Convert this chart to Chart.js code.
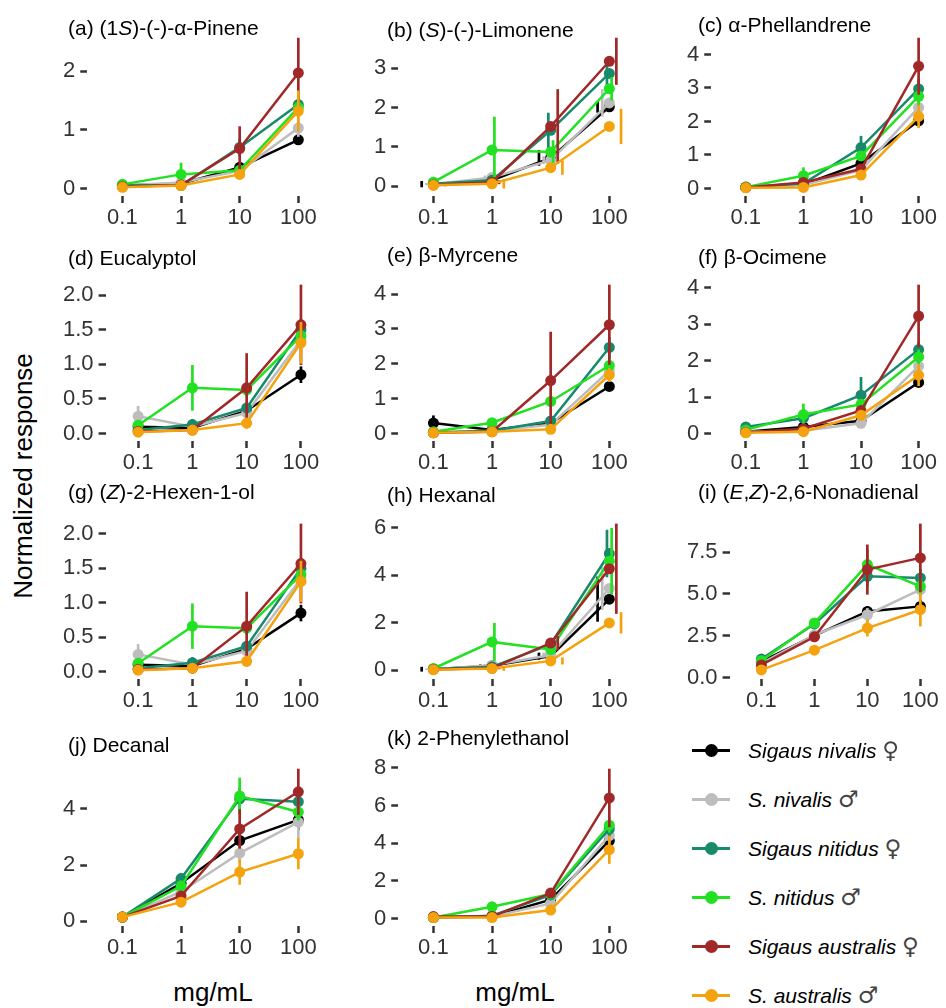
<!DOCTYPE html>
<html lang="en">
<head>
<meta charset="UTF-8">
<title>Normalized response</title>
<script src="https://cdn.jsdelivr.net/npm/chart.js@4.4.0/dist/chart.umd.min.js"></script>
<style>
    body { margin: 0; background: #fff; font-family: "Liberation Sans", Arial, sans-serif; }
    #fig { position: relative; width: 946px; height: 1008px; overflow: hidden; }
    #fig canvas { position: absolute; }
    .title { position: absolute; font-size: 21px; line-height: 22px; white-space: nowrap; color: #000; }
    .axtitle { position: absolute; font-size: 26px; line-height: 30px; white-space: nowrap; color: #000; }
    .leg { position: absolute; left: 692px; width: 250px; height: 24px; font-size: 21px; line-height: 24px; white-space: nowrap; }
    .leg .ln { position: absolute; left: 0; top: 10.5px; width: 38px; height: 3px; }
    .leg .pt { position: absolute; left: 13px; top: 5.5px; width: 13px; height: 13px; border-radius: 50%; }
    .leg .tx { position: absolute; left: 56px; top: 0; font-style: italic; color: #000; }
    .leg .sx { font-style: normal; color: #444; font-family: "DejaVu Sans ExtraLight", "DejaVu Sans", sans-serif; font-size: 23px; }
</style>
</head>
<body>
<div id="fig"></div>
<script>
    // concentrations (x axis)
    const doses = ['0.1', '1', '10', '100'];

    // groups, in the order of the legend
    const legendNames = ['Sigaus nivalis', 'S. nivalis', 'Sigaus nitidus', 'S. nitidus', 'Sigaus australis', 'S. australis'];
    const legendSex = ['♀', '♂', '♀', '♂', '♀', '♂'];
    const colors = ['#000000', '#BDBDBD', '#178A6C', '#22E022', '#A12828', '#F4A30F'];

    // mean responses, one row per group (nivalis F, nivalis M, nitidus F, nitidus M, australis F, australis M)
    const pinene = [
        [0.05, 0.08, 0.36, 0.83], [0.05, 0.10, 0.30, 1.03], [0.06, 0.05, 0.70, 1.43],
        [0.07, 0.24, 0.31, 1.38], [0.03, 0.06, 0.68, 1.97], [0.02, 0.05, 0.24, 1.32]];
    const pineneSE = [
        [0.02, 0.03, 0.05, 0.07], [0.02, 0.03, 0.05, 0.15], [0.02, 0.03, 0.15, 0.15],
        [0.02, 0.20, 0.06, 0.15], [0.02, 0.03, 0.38, 0.60], [0.02, 0.03, 0.05, 0.35]];

    const limonene = [
        [0.05, 0.15, 0.72, 2.02], [0.05, 0.22, 0.66, 2.12], [0.06, 0.15, 1.42, 2.87],
        [0.10, 0.92, 0.87, 2.48], [0.03, 0.10, 1.52, 3.18], [0.02, 0.06, 0.47, 1.52]];
    const limoneneSE = [
        [0.08, 0.05, 0.20, 0.15], [0.03, 0.05, 0.10, 0.35], [0.03, 0.05, 0.45, 0.40],
        [0.03, 0.85, 0.30, 0.30], [0.03, 0.05, 0.95, 0.60], [0.03, 0.12, 0.18, 0.45]];

    const phellandrene = [
        [0.03, 0.12, 0.75, 2.02], [0.03, 0.10, 0.55, 2.42], [0.04, 0.15, 1.22, 2.97],
        [0.04, 0.38, 0.97, 2.75], [0.03, 0.18, 0.58, 3.65], [0.02, 0.03, 0.40, 2.15]];
    const phellandreneSE = [
        [0.02, 0.03, 0.10, 0.15], [0.02, 0.03, 0.08, 0.30], [0.02, 0.05, 0.35, 0.30],
        [0.02, 0.25, 0.15, 0.30], [0.02, 0.05, 0.10, 0.85], [0.02, 0.03, 0.12, 0.35]];

    const eucalyptol = [
        [0.10, 0.08, 0.33, 0.85], [0.25, 0.10, 0.30, 1.35], [0.05, 0.13, 0.37, 1.50],
        [0.12, 0.66, 0.63, 1.41], [0.03, 0.05, 0.66, 1.57], [0.02, 0.05, 0.15, 1.31]];
    const eucalyptolSE = [
        [0.04, 0.03, 0.05, 0.12], [0.15, 0.03, 0.05, 0.30], [0.03, 0.08, 0.06, 0.15],
        [0.04, 0.33, 0.10, 0.15], [0.02, 0.03, 0.50, 0.58], [0.02, 0.03, 0.08, 0.30]];

    const myrcene = [
        [0.30, 0.10, 0.30, 1.35], [0.03, 0.08, 0.25, 1.80], [0.03, 0.08, 0.36, 2.47],
        [0.05, 0.31, 0.92, 1.95], [0.02, 0.05, 1.52, 3.12], [0.02, 0.05, 0.12, 1.68]];
    const myrceneSE = [
        [0.22, 0.03, 0.05, 0.10], [0.02, 0.03, 0.05, 0.20], [0.02, 0.03, 0.08, 0.30],
        [0.02, 0.12, 0.15, 0.30], [0.02, 0.03, 1.40, 1.15], [0.02, 0.03, 0.05, 0.20]];

    const ocimene = [
        [0.05, 0.18, 0.35, 1.40], [0.05, 0.08, 0.28, 1.85], [0.18, 0.42, 1.05, 2.30],
        [0.10, 0.52, 0.80, 2.10], [0.03, 0.13, 0.63, 3.22], [0.02, 0.05, 0.50, 1.60]];
    const ocimeneSE = [
        [0.02, 0.04, 0.05, 0.10], [0.02, 0.03, 0.05, 0.20], [0.03, 0.10, 0.50, 0.20],
        [0.03, 0.30, 0.12, 0.20], [0.02, 0.04, 0.10, 0.86], [0.02, 0.03, 0.08, 0.30]];

    const hexenol = [
        [0.10, 0.08, 0.33, 0.85], [0.25, 0.10, 0.30, 1.35], [0.05, 0.13, 0.37, 1.50],
        [0.12, 0.66, 0.63, 1.41], [0.03, 0.05, 0.66, 1.57], [0.02, 0.05, 0.15, 1.31]];
    const hexenolSE = [
        [0.04, 0.03, 0.05, 0.12], [0.15, 0.03, 0.05, 0.30], [0.03, 0.08, 0.06, 0.15],
        [0.04, 0.33, 0.10, 0.15], [0.02, 0.03, 0.50, 0.58], [0.02, 0.03, 0.08, 0.30]];

    const hexanal = [
        [0.05, 0.20, 0.60, 3.00], [0.05, 0.22, 0.65, 3.45], [0.06, 0.15, 1.10, 4.92],
        [0.08, 1.20, 0.88, 4.60], [0.04, 0.10, 1.15, 4.28], [0.03, 0.08, 0.40, 2.00]];
    const hexanalSE = [
        [0.10, 0.05, 0.15, 0.95], [0.03, 0.05, 0.10, 0.90], [0.03, 0.05, 0.15, 1.00],
        [0.03, 0.80, 0.20, 1.40], [0.03, 0.05, 0.30, 1.90], [0.03, 0.10, 0.15, 0.45]];

    const nonadienal = [
        [0.95, 2.50, 3.95, 4.25], [0.85, 2.55, 3.75, 5.25], [1.10, 3.20, 6.05, 5.95],
        [1.00, 3.25, 6.75, 5.45], [0.75, 2.43, 6.45, 7.15], [0.45, 1.63, 2.95, 4.05]];
    const nonadienalSE = [
        [0.15, 0.20, 0.30, 0.40], [0.15, 0.20, 0.40, 0.40], [0.15, 0.25, 0.60, 0.50],
        [0.15, 0.25, 0.90, 0.50], [0.15, 0.30, 1.50, 2.05], [0.10, 0.15, 0.50, 1.00]];

    const decanal = [
        [0.15, 1.35, 2.87, 3.60], [0.15, 1.05, 2.42, 3.52], [0.15, 1.52, 4.35, 4.25],
        [0.15, 1.25, 4.45, 3.88], [0.15, 0.90, 3.28, 4.60], [0.15, 0.68, 1.75, 2.40]];
    const decanalSE = [
        [0.05, 0.10, 0.30, 0.35], [0.05, 0.10, 0.30, 0.60], [0.05, 0.20, 0.40, 0.30],
        [0.05, 0.20, 0.65, 0.30], [0.05, 0.10, 0.70, 0.82], [0.05, 0.10, 0.45, 0.55]];

    const phenylethanol = [
        [0.05, 0.10, 1.00, 4.12], [0.05, 0.10, 0.80, 4.40], [0.05, 0.15, 1.25, 4.75],
        [0.05, 0.62, 1.30, 4.95], [0.10, 0.10, 1.35, 6.40], [0.05, 0.05, 0.45, 3.65]];
    const phenylethanolSE = [
        [0.03, 0.05, 0.10, 0.30], [0.03, 0.05, 0.10, 0.40], [0.03, 0.05, 0.15, 0.40],
        [0.03, 0.25, 0.15, 0.40], [0.03, 0.05, 0.20, 1.55], [0.03, 0.05, 0.10, 0.75]];

    // panel titles and y tick labels
    const titles = [
        '(a) (1<i>S</i>)-(-)-α-Pinene', '(b) (<i>S</i>)-(-)-Limonene', '(c) α-Phellandrene',
        '(d) Eucalyptol', '(e) β-Myrcene', '(f) β-Ocimene',
        '(g) (<i>Z</i>)-2-Hexen-1-ol', '(h) Hexanal', '(i) (<i>E</i>,<i>Z</i>)-2,6-Nonadienal',
        '(j) Decanal', '(k) 2-Phenylethanol'];
    const yTicks = [
        [0, 1, 2], [0, 1, 2, 3], [0, 1, 2, 3, 4],
        [0, 0.5, 1, 1.5, 2], [0, 1, 2, 3, 4], [0, 1, 2, 3, 4],
        [0, 0.5, 1, 1.5, 2], [0, 2, 4, 6], [0, 2.5, 5, 7.5],
        [0, 2, 4], [0, 2, 4, 6, 8]];

    const means = [pinene, limonene, phellandrene, eucalyptol, myrcene, ocimene, hexenol, hexanal, nonadienal, decanal, phenylethanol];
    const errors = [pineneSE, limoneneSE, phellandreneSE, eucalyptolSE, myrceneSE, ocimeneSE, hexenolSE, hexanalSE, nonadienalSE, decanalSE, phenylethanolSE];
    // horizontal dodge of the error bars (only b and h are dodged)
    const dodge = [0, 0.2, 0, 0, 0, 0, 0, 0.2, 0, 0, 0];

    // layout
    const colLeft = [58, 369, 682];
    const colWidth = [281, 281, 264];
    const colMax = [3.6, 3.6, 3.38];
    const rowTop = [22, 269, 508, 753];
    const rowBottom = [196, 441, 679, 926];
    const titlePos = [[68, 28], [387, 30], [698, 25], [68, 258], [387, 255], [698, 257],
                      [68, 492], [387, 495], [698, 492], [68, 745], [387, 738]];

    Chart.defaults.font.family = '"Liberation Sans", Arial, sans-serif';
    Chart.defaults.font.size = 22;

    // vertical error bars drawn through the chart scales
    const errorBars = {
        id: 'errorBars',
        beforeDatasetDraw(chart, args) {
            const ds = chart.data.datasets[args.index];
            if (!ds.errors) return;
            const ctx = chart.ctx, x = chart.scales.x, y = chart.scales.y;
            ctx.save();
            ctx.strokeStyle = ds.borderColor;
            ctx.lineWidth = 2.7;
            ds.data.forEach((p, j) => {
                const px = x.getPixelForValue(p.x + ds.dodge);
                ctx.beginPath();
                ctx.moveTo(px, y.getPixelForValue(p.y - ds.errors[j]));
                ctx.lineTo(px, y.getPixelForValue(p.y + ds.errors[j]));
                ctx.stroke();
            });
            ctx.restore();
        }
    };

    const fig = document.getElementById('fig');
    const padTop = 10, xAxisH = 38;
    const tickGrid = { drawOnChartArea: false, drawTicks: true, tickLength: 7, tickWidth: 2.5, tickColor: '#333' };

    means.forEach((mean, k) => {
        const col = k % 3, row = Math.floor(k / 3);
        const se = errors[k];

        // ggplot-like 5% expansion of the data range
        let lo = Infinity, hi = -Infinity;
        mean.forEach((vals, s) => vals.forEach((v, j) => {
            lo = Math.min(lo, v - se[s][j]);
            hi = Math.max(hi, v + se[s][j]);
        }));
        const span = hi - lo;
        const dec = yTicks[k].some(t => t % 1 !== 0) ? 1 : 0;

        const cv = document.createElement('canvas');
        cv.width = colWidth[col];
        cv.height = rowBottom[row] - rowTop[row] + padTop + xAxisH;
        cv.style.left = colLeft[col] + 'px';
        cv.style.top = (rowTop[row] - padTop) + 'px';
        fig.appendChild(cv);

        const datasets = mean.map((vals, s) => ({
            data: vals.map((v, j) => ({ x: j, y: v })),
            errors: se[s],
            dodge: dodge[k] * (s - 2.5) / 2.5,
            borderColor: colors[s],
            backgroundColor: colors[s],
            pointBackgroundColor: colors[s],
            pointBorderWidth: 0,
            pointRadius: 5.5,
            borderWidth: 2.5,
            tension: 0,
            order: 5 - s,
            clip: false
        }));

        new Chart(cv, {
            type: 'line',
            data: { datasets: datasets },
            plugins: [errorBars],
            options: {
                responsive: false,
                animation: false,
                events: [],
                layout: { padding: { top: padTop, left: 0, right: 0, bottom: 0 } },
                plugins: { legend: { display: false }, tooltip: { enabled: false } },
                scales: {
                    x: {
                        type: 'linear',
                        min: -0.6,
                        max: colMax[col],
                        afterBuildTicks: s => { s.ticks = doses.map((d, i) => ({ value: i })); },
                        afterFit: s => { s.height = xAxisH; },
                        ticks: { callback: v => doses[v], color: '#333', padding: 2, maxRotation: 0, autoSkip: false },
                        grid: tickGrid,
                        border: { display: false }
                    },
                    y: {
                        min: lo - 0.05 * span,
                        max: hi + 0.05 * span,
                        afterBuildTicks: s => { s.ticks = yTicks[k].map(v => ({ value: v })); },
                        ticks: { callback: v => v.toFixed(dec), color: '#333', padding: 5 },
                        grid: tickGrid,
                        border: { display: false }
                    }
                }
            }
        });

        const t = document.createElement('div');
        t.className = 'title';
        t.innerHTML = titles[k];
        t.style.left = titlePos[k][0] + 'px';
        t.style.top = (titlePos[k][1] - 11) + 'px';
        fig.appendChild(t);
    });

    // axis titles
    const yTitle = document.createElement('div');
    yTitle.className = 'axtitle';
    yTitle.textContent = 'Normalized response';
    yTitle.style.left = '23px';
    yTitle.style.top = '476px';
    yTitle.style.transform = 'translate(-50%, -50%) rotate(-90deg)';
    fig.appendChild(yTitle);

    [213, 515].forEach(cx => {
        const xt = document.createElement('div');
        xt.className = 'axtitle';
        xt.textContent = 'mg/mL';
        xt.style.left = cx + 'px';
        xt.style.top = '992px';
        xt.style.transform = 'translate(-50%, -50%)';
        fig.appendChild(xt);
    });

    // legend
    legendNames.forEach((name, s) => {
        const row = document.createElement('div');
        row.className = 'leg';
        row.style.top = (750 + s * 49 - 12) + 'px';
        row.innerHTML = '<span class="ln" style="background:' + colors[s] + '"></span>' +
            '<span class="pt" style="background:' + colors[s] + '"></span>' +
            '<span class="tx">' + name + ' <span class="sx">' + legendSex[s] + '</span></span>';
        fig.appendChild(row);
    });
</script>
</body>
</html>
